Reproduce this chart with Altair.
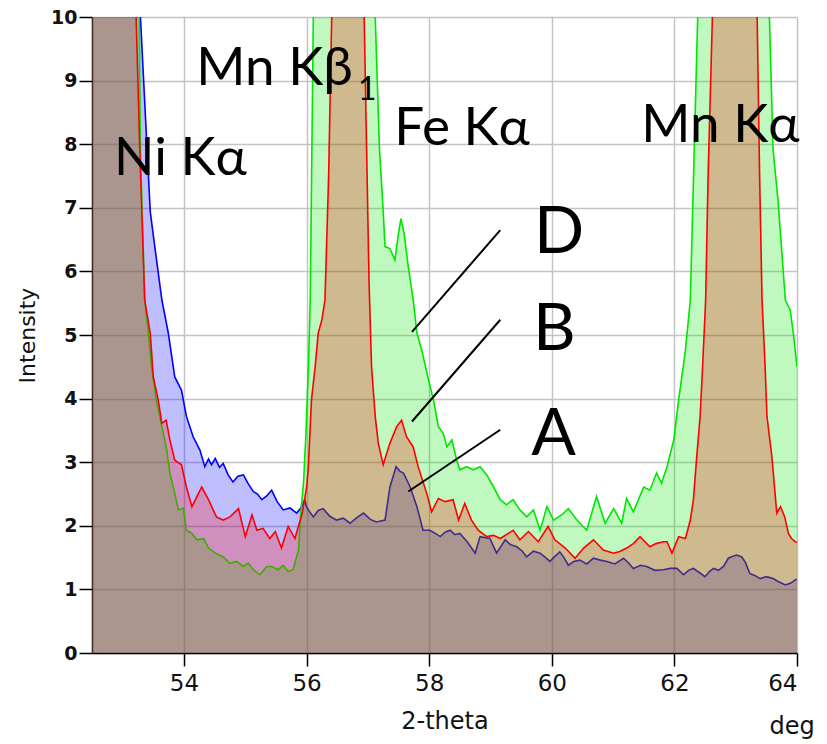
import altair as alt
import pandas as pd

# ---- series A (blue) ----
a_x = [52.5, 53.0, 53.29, 53.40, 53.45, 53.55, 53.64, 53.745, 53.85, 53.96, 54.04, 54.15,
       54.26, 54.34, 54.40, 54.45, 54.51, 54.58, 54.64, 54.72, 54.80, 54.88, 54.97, 55.05,
       55.13, 55.20, 55.27, 55.35, 55.43, 55.52, 55.62, 55.73, 55.84, 55.90, 55.97, 56.0,
       56.05, 56.11, 56.19, 56.27, 56.38, 56.49, 56.6, 56.71, 56.82, 56.93, 57.04, 57.14,
       57.28, 57.36, 57.46, 57.52, 57.58, 57.69, 57.80, 57.90, 58.01, 58.10, 58.18, 58.26,
       58.34, 58.42, 58.50, 58.62, 58.75, 58.83, 58.99, 59.10, 59.24, 59.33, 59.43, 59.52,
       59.59, 59.70, 59.81, 59.90, 59.97, 60.05, 60.13, 60.20, 60.27, 60.36, 60.46, 60.57,
       60.68, 60.79, 60.90, 61.03, 61.17, 61.25, 61.33, 61.45, 61.55, 61.68, 61.82, 61.93,
       62.04, 62.15, 62.23, 62.31, 62.40, 62.50, 62.57, 62.64, 62.72, 62.80, 62.88, 62.95,
       63.02, 63.10, 63.16, 63.23, 63.31, 63.40, 63.50, 63.61, 63.70, 63.81, 63.90, 63.97,
       64.0]
a_y = [25.0, 14.0, 10.0, 7.9, 6.94, 6.2, 5.55, 5.03, 4.34, 4.13, 3.72, 3.40,
       3.19, 2.93, 3.05, 2.96, 3.06, 2.92, 2.98, 2.80, 2.69, 2.78, 2.80, 2.66,
       2.54, 2.50, 2.41, 2.47, 2.56, 2.38, 2.25, 2.28, 2.20, 2.27, 2.41, 2.30,
       2.22, 2.14, 2.24, 2.27, 2.15, 2.09, 2.12, 2.04, 2.13, 2.20, 2.10, 2.06,
       2.09, 2.61, 2.93, 2.86, 2.83, 2.61, 2.30, 1.93, 1.93, 1.88, 1.83, 1.90,
       1.93, 1.86, 1.88, 1.75, 1.57, 1.83, 1.80, 1.57, 1.78, 1.70, 1.67, 1.60,
       1.51, 1.60, 1.57, 1.50, 1.44, 1.52, 1.59, 1.50, 1.38, 1.44, 1.46, 1.40,
       1.49, 1.46, 1.44, 1.40, 1.49, 1.42, 1.33, 1.38, 1.36, 1.30, 1.31, 1.33,
       1.33, 1.23, 1.30, 1.33, 1.27, 1.20, 1.28, 1.33, 1.30, 1.36, 1.49, 1.52,
       1.54, 1.51, 1.42, 1.25, 1.22, 1.17, 1.20, 1.17, 1.12, 1.07, 1.10, 1.15,
       1.16]

# ---- series B (red) ----
b_x = [52.5, 53.0, 53.22, 53.28, 53.36, 53.45, 53.50, 53.58, 53.64, 53.71, 53.77, 53.85,
       53.96, 54.04, 54.13, 54.21, 54.29, 54.40, 54.53, 54.64, 54.75, 54.89, 55.00, 55.11,
       55.19, 55.29, 55.40, 55.49, 55.59, 55.70, 55.81, 55.93, 56.0, 56.03, 56.08, 56.14,
       56.19, 56.25, 56.30, 56.36, 56.41, 56.55, 56.68, 56.82, 56.94, 57.02, 57.06, 57.12,
       57.17, 57.25, 57.36, 57.47, 57.55, 57.63, 57.74, 57.82, 57.96, 58.04, 58.15, 58.26,
       58.39, 58.48, 58.58, 58.69, 58.80, 58.94, 59.05, 59.16, 59.29, 59.37, 59.48, 59.62,
       59.78, 59.94, 60.05, 60.22, 60.38, 60.52, 60.68, 60.84, 61.01, 61.12, 61.22, 61.33,
       61.44, 61.60, 61.70, 61.82, 61.88, 61.96, 62.07, 62.18, 62.26, 62.31, 62.36, 62.42,
       62.46, 62.51, 62.55, 62.62, 62.8, 63.0, 63.2, 63.35, 63.39, 63.43, 63.48, 63.51,
       63.59, 63.67, 63.73, 63.80, 63.86, 63.91, 63.97, 64.0]
b_y = [25.0, 14.0, 10.0, 7.9, 5.55, 5.03, 4.34, 3.98, 3.61, 3.66, 3.35, 3.03,
       2.96, 2.61, 2.30, 2.46, 2.61, 2.41, 2.14, 2.09, 2.14, 2.27, 1.83, 2.17,
       1.93, 1.96, 1.80, 1.91, 1.65, 1.99, 1.80, 2.20, 2.60, 2.93, 3.98, 4.50,
       5.03, 5.24, 5.55, 7.5, 10.0, 16.0, 18.0, 15.0, 10.0, 5.8, 4.50, 3.72,
       3.30, 2.96, 3.30, 3.56, 3.66, 3.40, 3.24, 2.93, 2.51, 2.22, 2.43, 2.38,
       2.41, 2.09, 2.35, 2.09, 1.93, 1.83, 1.85, 1.80, 1.88, 1.93, 1.78, 1.91,
       1.75, 1.99, 1.78, 1.65, 1.49, 1.65, 1.78, 1.62, 1.57, 1.60, 1.65, 1.72,
       1.83, 1.67, 1.72, 1.75, 1.75, 1.57, 1.83, 1.80, 2.09, 2.41, 3.03, 3.72,
       4.50, 5.55, 7.5, 10.0, 17.0, 20.0, 17.0, 10.0, 7.5, 5.55, 4.50, 3.72,
       3.09, 2.20, 2.30, 2.14, 1.88, 1.80, 1.75, 1.74]

# ---- series D (green) ----
d_x = [52.5, 53.0, 53.27, 53.29, 53.36, 53.42, 53.47, 53.55, 53.64, 53.72, 53.77, 53.85,
       53.91, 53.99, 54.04, 54.13, 54.21, 54.32, 54.40, 54.51, 54.64, 54.75, 54.86, 54.97,
       55.05, 55.13, 55.24, 55.35, 55.43, 55.54, 55.62, 55.70, 55.78, 55.87, 55.90, 55.95,
       55.99, 56.03, 56.06, 56.11, 56.3, 56.6, 56.9, 57.12, 57.19, 57.24, 57.28, 57.36,
       57.44, 57.50, 57.54, 57.59, 57.66, 57.74, 57.80, 57.88, 57.99, 58.07, 58.15, 58.23,
       58.29, 58.37, 58.45, 58.50, 58.61, 58.72, 58.83, 58.94, 59.05, 59.16, 59.26, 59.37,
       59.48, 59.59, 59.70, 59.81, 59.92, 60.03, 60.16, 60.27, 60.41, 60.57, 60.73, 60.87,
       61.01, 61.14, 61.22, 61.33, 61.50, 61.60, 61.71, 61.79, 61.88, 61.99, 62.07, 62.18,
       62.26, 62.38, 62.6, 63.0, 63.3, 63.55, 63.61, 63.69, 63.81, 63.89, 63.94, 64.0]
d_y = [25.0, 14.0, 10.0, 7.9, 5.55, 5.03, 4.50, 3.98, 3.56, 3.19, 2.83, 2.51,
       2.25, 2.28, 1.93, 1.88, 1.78, 1.80, 1.65, 1.57, 1.51, 1.41, 1.44, 1.36,
       1.41, 1.31, 1.23, 1.36, 1.36, 1.31, 1.38, 1.28, 1.31, 1.62, 2.14, 2.67,
       3.45, 4.50, 5.55, 10.0, 18.0, 22.0, 18.0, 10.0, 7.91, 7.12, 6.39, 6.36,
       6.18, 6.60, 6.83, 6.60, 6.07, 5.55, 5.03, 4.76, 4.29, 3.98, 3.56, 3.45,
       3.24, 3.35, 3.03, 2.88, 2.93, 2.88, 2.93, 2.80, 2.61, 2.41, 2.33, 2.41,
       2.25, 2.14, 2.25, 1.93, 2.30, 2.09, 2.17, 2.27, 2.09, 1.93, 2.46, 2.04,
       2.27, 2.04, 2.43, 2.22, 2.61, 2.56, 2.83, 2.67, 2.93, 3.35, 3.98, 4.76,
       5.55, 10.0, 18.0, 24.0, 18.0, 10.0, 7.91, 7.12, 5.55, 5.39, 5.03, 4.50]

# ---- annotations ----
peak_text = ["Ni K\u03b1", "Mn K\u03b2", "1", "Fe K\u03b1", "Mn K\u03b1"]
peak_x = [52.86, 54.20, 56.84, 57.43, 61.46]
peak_y = [7.52, 8.93, 8.69, 7.99, 8.03]
peak_size = [53, 53, 32, 53, 53]

letter_text = ["D", "B", "A"]
letter_x = [60.12, 60.04, 60.03]
letter_y = [6.29, 4.76, 3.11]

ptr_x1 = [59.16, 59.16, 59.16]
ptr_y1 = [6.65, 5.24, 3.51]
ptr_x2 = [57.72, 57.72, 57.66]
ptr_y2 = [5.05, 3.64, 2.54]

x_ticks = [54, 56, 58, 60, 62, 64]
y_ticks = [0, 1, 2, 3, 4, 5, 6, 7, 8, 9, 10]

LABEL_FONT = "DejaVu Sans"
ANN_FONT = "Lato, Open Sans, sans-serif"

x_axis = alt.Axis(values=x_ticks, grid=True, gridColor="#c4c4c4", gridWidth=1.5,
                  domainColor="black", domainWidth=1.5, tickColor="black", tickWidth=1.5,
                  tickSize=13, labelFont=LABEL_FONT, labelFontSize=23, labelColor="#111",
                  labelPadding=6, title="2-theta", titleFont=LABEL_FONT, titleFontSize=24,
                  titleFontWeight="normal", titleColor="#111", titlePadding=14)
y_axis = alt.Axis(values=y_ticks, grid=True, gridColor="#c4c4c4", gridWidth=1.5,
                  domainColor="black", domainWidth=1.5, tickColor="black", tickWidth=1.5,
                  tickSize=13, labelFont=LABEL_FONT, labelFontSize=19, labelFontWeight="bold",
                  labelColor="#111", labelPadding=2, title="Intensity", titleFont=LABEL_FONT,
                  titleFontSize=22, titleFontWeight="normal", titleColor="#111", titlePadding=11)

X = alt.X("x:Q", scale=alt.Scale(domain=[52.5, 64], nice=False, zero=False), axis=x_axis)
Y = alt.Y("y:Q", scale=alt.Scale(domain=[0, 10], nice=False, zero=True), axis=y_axis)


def series(xs, ys, color):
    base = alt.Chart(pd.DataFrame({"x": xs, "y": ys}))
    area = base.mark_area(color=color, fillOpacity=0.25, clip=True, interpolate="linear").encode(x=X, y=Y)
    line = base.mark_line(color=color, strokeWidth=1.6, clip=True).encode(x=X, y=Y)
    return [area, line]


layers = []
layers += series(a_x, a_y, "#0000ff")
layers += series(d_x, d_y, "#00e600")
layers += series(b_x, b_y, "#ff0000")

ptr_df = pd.DataFrame({"x": ptr_x1, "y": ptr_y1, "x2": ptr_x2, "y2": ptr_y2})
pointers = alt.Chart(ptr_df).mark_rule(color="black", strokeWidth=2).encode(
    x=X, y=Y, x2="x2:Q", y2="y2:Q")

peak_df = pd.DataFrame({"x": peak_x, "y": peak_y, "t": peak_text, "s": peak_size})
peaks = alt.Chart(peak_df).mark_text(font=ANN_FONT, align="left", baseline="alphabetic",
                                     color="black").encode(
    x=X, y=Y, text="t:N", size=alt.Size("s:Q", scale=None, legend=None))

letter_df = pd.DataFrame({"x": letter_x, "y": letter_y, "t": letter_text})
letters = alt.Chart(letter_df).mark_text(font=ANN_FONT, align="center", baseline="alphabetic",
                                         fontSize=66, color="black").encode(
    x=X, y=Y, text="t:N")

unit_df = pd.DataFrame({"x": [64.0], "y": [0.0], "t": ["deg"]})
unit = alt.Chart(unit_df).mark_text(font=LABEL_FONT, fontSize=24, align="center",
                                    baseline="alphabetic", dx=-5, dy=81,
                                    color="#111").encode(x=X, y=Y, text="t:N")

chart = alt.layer(*layers, pointers, peaks, letters, unit).properties(
    width=705, height=636,
    autosize=alt.AutoSizeParams(type="none"),
    padding={"left": 84, "top": 9, "right": 22, "bottom": 88},
).configure_view(strokeWidth=0).configure(background="white")

chart.save("out.html", embed_options={"renderer": "svg", "actions": False})
